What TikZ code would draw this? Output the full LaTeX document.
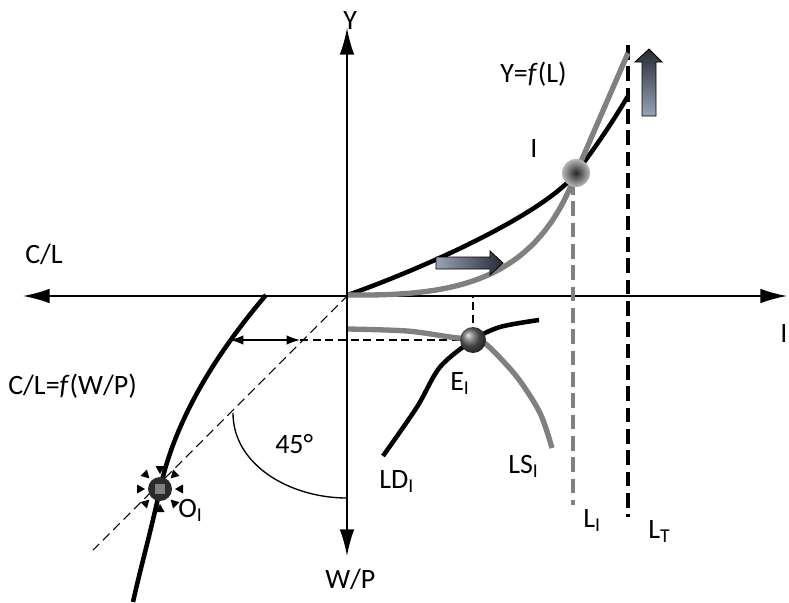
\documentclass[tikz,border=0pt]{standalone}
\usepackage{fontspec}
\setmainfont{Carlito}
\usetikzlibrary{arrows.meta,calc}
\definecolor{Curve}{HTML}{808080}
\definecolor{Steel}{HTML}{98A3B8}
\definecolor{Slate}{HTML}{262B33}
\definecolor{Ink}{HTML}{2B2B2B}
\begin{document}
\begin{tikzpicture}[x=0.75pt, y=-0.75pt,
    ax/.style={line width=1.3pt, {Latex[length=20pt,width=11pt]}-{Latex[length=20pt,width=11pt]}},
    blk/.style={line width=3.4pt, line cap=butt},
    gry/.style={line width=4pt, color=Curve},
    guide/.style={line width=1.1pt, dash pattern=on 6pt off 3.5pt},
    bar/.style={line width=2.4pt, dash pattern=on 11pt off 5pt},
    lbl/.style={font=\fontsize{21}{25}\selectfont, inner sep=0pt, anchor=base west},
    fat/.style={draw=black, line width=0.6pt}]
  \useasboundingbox (0,0) rectangle (789,603);
  % points
  \coordinate (O)   at (348,295);
  \coordinate (xl)  at (23,296);
  \coordinate (xr)  at (787,296);
  \coordinate (yt)  at (347,28);
  \coordinate (yb)  at (347,556);
  \coordinate (I)   at (576,173);
  \coordinate (E)   at (473,340);
  \coordinate (Oi)  at (160,489);
  \coordinate (cl)  at (230,340);
  \coordinate (mid) at (300,340);
  \coordinate (ex)  at (473,296);
  \coordinate (d45) at (93,550);
  \coordinate (LIt) at (573,180);
  \coordinate (LIb) at (573,505);
  \coordinate (LTt) at (628,45);
  \coordinate (LTb) at (628,517);
  \coordinate (a1)  at (233,413);
  \coordinate (a2)  at (347,498);
  % axes
  \draw[ax] (xl) -- (xr);
  \draw[ax] (yt) -- (yb);
  % guides
  \draw[guide, line width=0.8pt, dash pattern=on 7pt off 4pt] (O) -- (d45);
  \draw[guide] (mid) -- (E) -- (ex);
  \draw[line width=0.9pt, {Latex[length=10pt,width=7pt]}-{Latex[length=10pt,width=7pt]}] (cl) -- (mid);
  \draw[bar] (LTt) -- (LTb);
  \draw[bar, color=Curve] (LIt) -- (LIb);
  \draw[line width=1pt] (a1) .. controls (233,465) and (290,498) .. (a2);
  % production
  \draw[blk] (O) .. controls (440,262) and (548,210) .. (I) .. controls (598,144) and (615,118) .. (628,96);
  \draw[gry] (O) .. controls (450,296) and (535,285) .. (I) -- (628,53);
  % labour market
  \draw[gry] plot[smooth] coordinates {(348,329) (407,331) (450,337) (473,340) (487,345) (517,377) (540,413) (552,448)};
  \draw[blk] plot[smooth] coordinates {(383,456) (417,407) (440,367) (473,340) (500,327) (539,320)};
  % consumption
  \draw[blk] (266,295) .. controls (215,355) and (175,420) .. (Oi) .. controls (150,535) and (140,570) .. (133,602);
  % shifts
  \path[fat, left color=Steel, right color=Slate]
    (436,257) -- (490,257) -- (490,251) -- (503,263) -- (490,275) -- (490,269) -- (436,269) -- cycle;
  \path[fat, top color=Slate, bottom color=Steel]
    (642,116) -- (642,62) -- (635,62) -- (649,49) -- (662,62) -- (656,62) -- (656,116) -- cycle;
  % equilibria
  \shade[inner color=black!85, outer color=gray!55] (I) circle[radius=14];
  \shade[ball color=gray!75!black] (E) circle[radius=13];
  \fill[Ink] (Oi) circle[radius=12];
  \fill[Curve] ($(Oi)+(-5,-5)$) rectangle ($(Oi)+(5,5)$);
  \foreach \a in {0,45,...,315}
    \fill[shift={(Oi)}, rotate=\a] (15,0) -- (23,4.5) -- (23,-4.5) -- cycle;
  % labels
  \node[lbl] (tcl)  at (25,263)  {C/L};
  \node[lbl] (ty)   at (343,29)  {Y};
  \node[lbl] (tf)   at (500,82)  {Y=\textit{f}(L)};
  \node[lbl] (ti)   at (530,157) {I};
  \node[lbl] (tx)   at (780,342) {I};
  \node[lbl] (tcf)  at (8,394)   {C/L=\textit{f}(W/P)};
  \node[lbl] (t45)  at (275,453) {45°};
  \node[lbl] (toi)  at (178,517) {O\textsubscript{I}};
  \node[lbl] (twp)  at (325,588) {W/P};
  \node[lbl] (tei)  at (450,390) {E\textsubscript{I}};
  \node[lbl] (tld)  at (379,488) {LD\textsubscript{I}};
  \node[lbl] (tls)  at (508,473) {LS\textsubscript{I}};
  \node[lbl] (tli)  at (583,527) {L\textsubscript{I}};
  \node[lbl] (tlt)  at (648,538) {L\textsubscript{T}};
\end{tikzpicture}
\end{document}
